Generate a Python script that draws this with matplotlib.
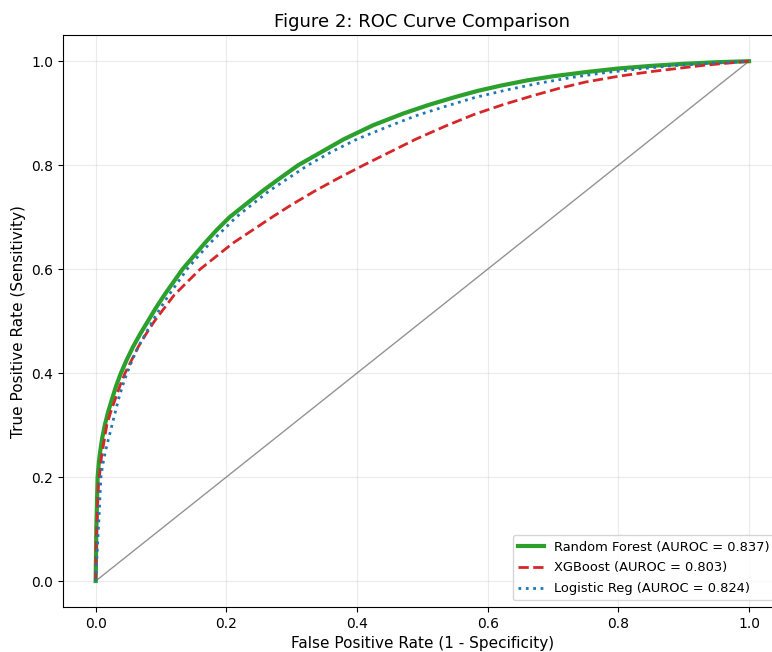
import matplotlib
matplotlib.use("Agg")
import matplotlib.pyplot as plt

rf_fpr = [0, 0.001, 0.003, 0.005, 0.007, 0.010, 0.014, 0.019, 0.025, 0.031, 0.038, 0.047, 0.057, 0.068, 0.08, 0.092, 0.105, 0.119, 0.133, 0.15, 0.167, 0.185, 0.205, 0.23, 0.255, 0.28, 0.31, 0.345, 0.38, 0.425, 0.47, 0.51, 0.55, 0.585, 0.62, 0.66, 0.7, 0.75, 0.8, 0.85, 0.9, 0.95, 1.0]
rf_tpr = [0, 0.10, 0.20, 0.23, 0.25, 0.275, 0.30, 0.325, 0.35, 0.374, 0.398, 0.424, 0.45, 0.475, 0.50, 0.525, 0.55, 0.575, 0.60, 0.625, 0.65, 0.675, 0.70, 0.725, 0.75, 0.773, 0.80, 0.825, 0.85, 0.877, 0.899, 0.916, 0.931, 0.943, 0.953, 0.963, 0.971, 0.979, 0.986, 0.991, 0.995, 0.998, 1.0]

xgb_fpr = [0, 0.001, 0.004, 0.009, 0.013, 0.017, 0.023, 0.03, 0.037, 0.045, 0.055, 0.065, 0.077, 0.09, 0.105, 0.12, 0.14, 0.16, 0.185, 0.21, 0.24, 0.27, 0.3, 0.335, 0.37, 0.41, 0.45, 0.49, 0.535, 0.58, 0.625, 0.67, 0.71, 0.75, 0.8, 0.85, 0.89, 0.93, 0.965, 1.0]
xgb_tpr = [0, 0.08, 0.18, 0.24, 0.27, 0.30, 0.325, 0.35, 0.375, 0.40, 0.425, 0.45, 0.475, 0.50, 0.525, 0.55, 0.575, 0.60, 0.625, 0.65, 0.675, 0.70, 0.724, 0.75, 0.774, 0.80, 0.825, 0.85, 0.875, 0.898, 0.917, 0.934, 0.948, 0.96, 0.971, 0.98, 0.986, 0.992, 0.996, 1.0]

lr_fpr = [0, 0.002, 0.005, 0.008, 0.011, 0.015, 0.02, 0.025, 0.03, 0.035, 0.041, 0.048, 0.056, 0.065, 0.076, 0.087, 0.099, 0.112, 0.126, 0.14, 0.157, 0.175, 0.195, 0.215, 0.24, 0.265, 0.295, 0.325, 0.36, 0.4, 0.445, 0.49, 0.535, 0.58, 0.63, 0.68, 0.73, 0.78, 0.83, 0.88, 0.94, 1.0]
lr_tpr = [0, 0.05, 0.12, 0.20, 0.225, 0.25, 0.275, 0.30, 0.325, 0.35, 0.375, 0.40, 0.425, 0.45, 0.475, 0.50, 0.525, 0.55, 0.575, 0.60, 0.625, 0.65, 0.675, 0.70, 0.725, 0.75, 0.775, 0.80, 0.825, 0.85, 0.873, 0.895, 0.913, 0.93, 0.945, 0.958, 0.969, 0.978, 0.985, 0.991, 0.996, 1.0]

labels = ["Random Forest (AUROC = 0.837)", "XGBoost (AUROC = 0.803)", "Logistic Reg (AUROC = 0.824)"]

fig = plt.figure(figsize=(7.72, 6.52), dpi=100)
ax = fig.add_axes([0.0816, 0.069, 0.931, 0.877])

ax.plot([0, 1], [0, 1], color="gray", lw=1, alpha=0.85)
ax.plot(rf_fpr, rf_tpr, color="#2ca02c", lw=3, label=labels[0])
ax.plot(xgb_fpr, xgb_tpr, color="#d62728", lw=2, ls="--", label=labels[1])
ax.plot(lr_fpr, lr_tpr, color="#1f77b4", lw=2, ls=":", label=labels[2])

ax.set_xlim(-0.05, 1.05)
ax.set_ylim(-0.05, 1.05)
ax.grid(True, alpha=0.25)
ax.set_xlabel("False Positive Rate (1 - Specificity)", fontsize=11)
ax.set_ylabel("True Positive Rate (Sensitivity)", fontsize=11)
ax.set_title("Figure 2: ROC Curve Comparison", fontsize=13)
ax.legend(loc="lower right", fontsize=9.4, labelspacing=0.6)

fig.savefig("out.png", dpi=100)
